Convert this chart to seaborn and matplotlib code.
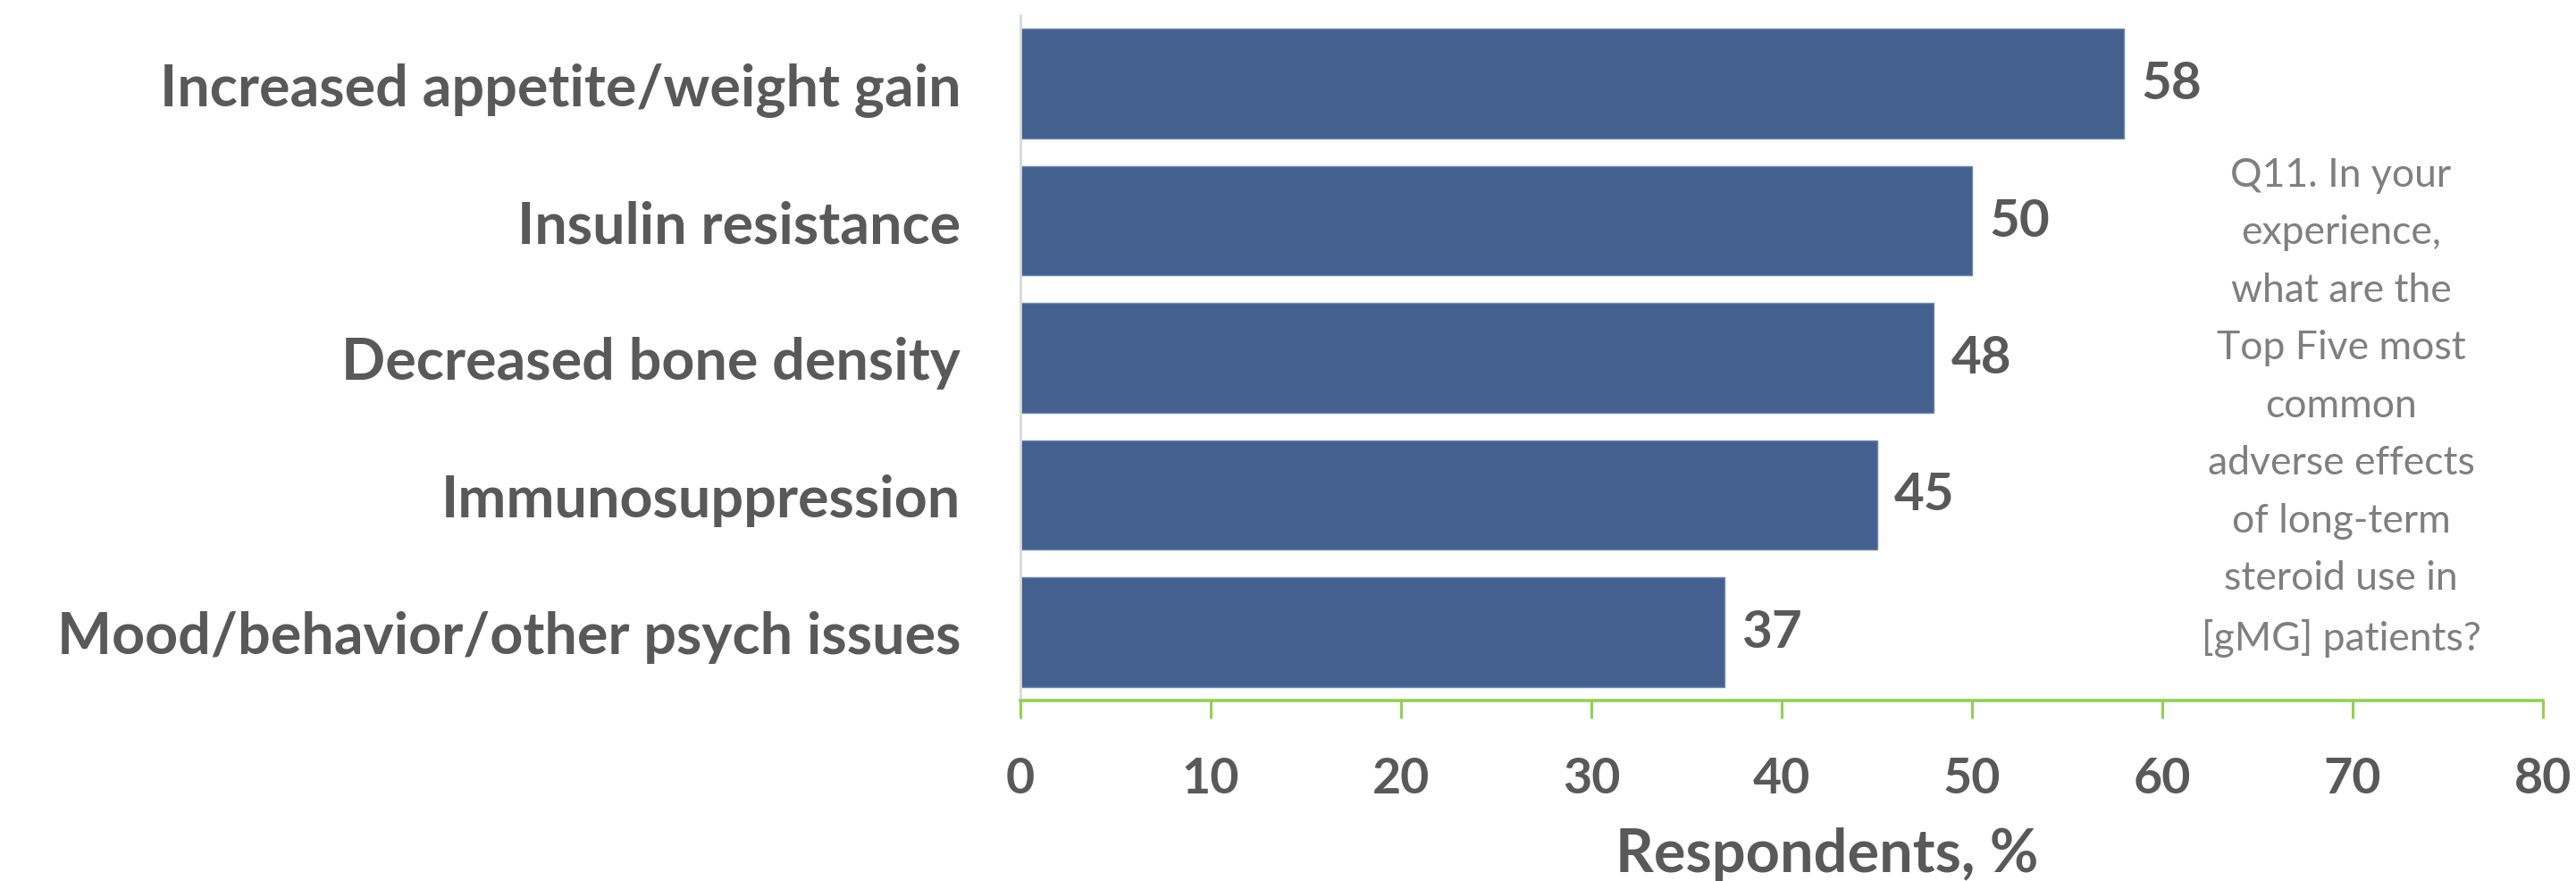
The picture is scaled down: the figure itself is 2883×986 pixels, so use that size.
import matplotlib
matplotlib.use("Agg")
import matplotlib.pyplot as plt
import seaborn as sns
import pandas as pd

categories = [
    "Increased appetite/weight gain",
    "Insulin resistance",
    "Decreased bone density",
    "Immunosuppression",
    "Mood/behavior/other psych issues",
]
values = [58, 50, 48, 45, 37]
xticks = [0, 10, 20, 30, 40, 50, 60, 70, 80]
xlabel = "Respondents, %"
note = ("Q11. In your\nexperience,\nwhat are the\nTop Five most\ncommon\nadverse effects\n"
        "of long-term\nsteroid use in\n[gMG] patients?")

sns.set_theme(style="white")
plt.rcParams["font.family"] = ["Lato", "DejaVu Sans"]

TEXT = "#595959"
BAR = "#44608F"
GREEN = "#92D050"

W, H, DPI = 2883, 987, 100
fig = plt.figure(figsize=(W / DPI, H / DPI), dpi=DPI)
ax = fig.add_axes([1142 / W, (H - 785) / H, (2846 - 1142) / W, 767 / H])

df = pd.DataFrame({"cat": categories, "val": values})
sns.barplot(data=df, x="val", y="cat", orient="h", color=BAR, width=0.8,
            saturation=1, edgecolor="#6F87B3", linewidth=1.0, ax=ax)

ax.set_xlim(0, 80)
ax.set_ylim(4.5, -0.5)
ax.set_xticks(xticks)
ax.set_xticklabels([str(t) for t in xticks])

for sp in ["top", "right"]:
    ax.spines[sp].set_visible(False)
ax.spines["left"].set_color("#D9D9D9")
ax.spines["left"].set_linewidth(2.0)
ax.spines["bottom"].set_color(GREEN)
ax.spines["bottom"].set_linewidth(2.6)

ax.tick_params(axis="x", which="both", bottom=True, direction="out", length=14.5,
               width=2.2, color=GREEN, pad=30, labelsize=40, labelcolor=TEXT)
ax.tick_params(axis="y", left=False, pad=42, labelsize=46.5, labelcolor=TEXT)
for lab in ax.get_xticklabels() + ax.get_yticklabels():
    lab.set_fontweight("bold")

ax.set_ylabel("")
ax.set_xlabel("")
fig.text(2045 / W, (H - 976) / H, xlabel, ha="center", va="baseline",
         fontsize=48, fontweight="bold", color=TEXT)

for i, v in enumerate(values):
    ax.annotate(str(v), xy=(v, i), xytext=(14, 0), textcoords="offset points",
                ha="left", va="center", fontsize=42, fontweight="bold", color=TEXT)

fig.text(2620 / W, (H - 456) / H, note, ha="center", va="center", fontsize=32,
         color="#7F7F7F", linespacing=1.71)

fig.savefig("out.png", dpi=DPI, facecolor="white")
